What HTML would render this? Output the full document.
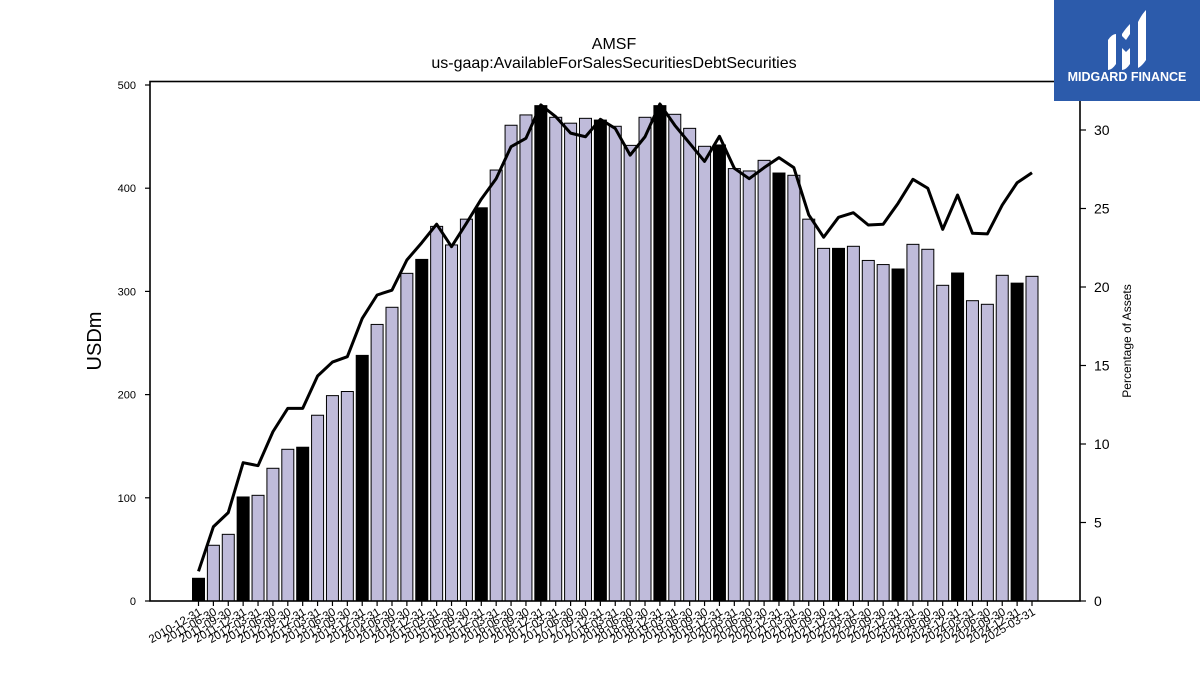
<!DOCTYPE html>
<html><head><meta charset="utf-8"><style>
body{margin:0;background:#fff;}
svg{display:block;font-family:"Liberation Sans","DejaVu Sans",sans-serif;}
</style></head><body>
<svg id="chart" width="1200" height="675" viewBox="0 0 1200 675">
<text x="614" y="49" font-size="16" text-anchor="middle">AMSF</text>
<text x="614" y="68" font-size="16" text-anchor="middle">us-gaap:AvailableForSalesSecuritiesDebtSecurities</text>
<g id="bars"></g>
<g id="line"></g>
<rect x="150" y="81.5" width="930" height="519.5" fill="none" stroke="#000" stroke-width="1.6"/>
<g id="yleft"></g>
<g id="yright"></g>
<g id="xaxis"></g>
<text transform="translate(101,341) rotate(-90)" font-size="20" text-anchor="middle">USDm</text>
<text transform="translate(1131,341) rotate(-90)" font-size="12" text-anchor="middle">Percentage of Assets</text>
<g>
<rect x="1054" y="0" width="146" height="101" fill="#2c5bab"/>
<path d="M1108 40 q4-6 8-6 v30 q-4 6-8 6z M1122 34 q4-6 8-10 v10 l-4 6 l-4-4z M1122 48 l4 4 l4-4 v16 q-4 6-8 6z M1138 22 q4-8 8-12 v50 q-4 6-8 8z" fill="#fff"/>
<text x="1127" y="81" font-size="12.5" font-weight="bold" fill="#fff" text-anchor="middle">MIDGARD FINANCE</text>
</g>
</svg>
<script>
const categories=["2010-12-31","2011-06-30","2011-09-30","2011-12-31","2012-03-31","2012-06-30","2012-09-30","2012-12-31","2013-03-31","2013-06-30","2013-09-30","2013-12-31","2014-03-31","2014-06-30","2014-09-30","2014-12-31","2015-03-31","2015-06-30","2015-09-30","2015-12-31","2016-03-31","2016-06-30","2016-09-30","2016-12-31","2017-03-31","2017-06-30","2017-09-30","2017-12-31","2018-03-31","2018-06-30","2018-09-30","2018-12-31","2019-03-31","2019-06-30","2019-09-30","2019-12-31","2020-03-31","2020-06-30","2020-09-30","2020-12-31","2021-03-31","2021-06-30","2021-09-30","2021-12-31","2022-03-31","2022-06-30","2022-09-30","2022-12-31","2023-03-31","2023-06-30","2023-09-30","2023-12-31","2024-03-31","2024-06-30","2024-09-30","2024-12-31","2025-03-31"];
const barValues=[22,54,64.6,100.8,102.4,128.6,147,149,180,199,203,238,268,284.6,317.5,331,363,345,370,381,417.6,461,471,480,468.7,463,467.7,466,460,441.5,468.7,480,471.6,458,440.6,441.9,419,416.7,427,414.7,412.5,370,341.7,341.7,343.7,330,326,321.7,345.6,340.8,305.9,317.8,291,287.5,315.6,308,314.6];
const pctValues=[1.89,4.73,5.63,8.81,8.62,10.78,12.27,12.27,14.33,15.22,15.56,18.0,19.49,19.8,21.72,22.82,24.0,22.57,24.06,25.6,26.9,28.94,29.47,31.6,30.85,29.8,29.57,30.68,30.1,28.4,29.57,31.66,30.3,29.15,28.0,29.6,27.56,26.9,27.6,28.24,27.6,24.6,23.17,24.44,24.73,23.95,24.0,25.33,26.86,26.29,23.67,25.86,23.42,23.38,25.22,26.64,27.28];
const leftTicks=[0,100,200,300,400,500];
const rightTicks=[0,5,10,15,20,25,30];

const NS="http://www.w3.org/2000/svg";
const x0=198.5, step=(1032-198.5)/56, bw=12;
const xPos=i=>x0+i*step;
const yL=v=>601-v*1.032;
const yR=v=>601-v*15.7;
function mk(t,a,p){const e=document.createElementNS(NS,t);for(const k in a)e.setAttribute(k,a[k]);p.appendChild(e);return e;}
const gB=document.getElementById('bars');
barValues.forEach((v,i)=>{
  const black=categories[i].endsWith('12-31');
  const r=mk('rect',{x:xPos(i)-bw/2,y:yL(v),width:bw,height:601-yL(v),fill:black?'#000':'#bfbbda',stroke:'#000','stroke-width':1},gB);
  
  
});
const gL=document.getElementById('line');
const pl=mk('polyline',{points:pctValues.map((v,i)=>xPos(i)+','+yR(v)).join(' '),fill:'none',stroke:'#000','stroke-width':3,'stroke-linejoin':'round'},gL);


const gY=document.getElementById('yleft');
leftTicks.forEach(v=>{
  const l=mk('line',{x1:145,x2:150,y1:yL(v),y2:yL(v),stroke:'#000','stroke-width':1.2},gY);
  
  
  const t=mk('text',{x:136,y:yL(v)+4,'font-size':11,'text-anchor':'end'},gY);
  t.textContent=v;
  
  
});
const gR=document.getElementById('yright');
rightTicks.forEach(v=>{
  const l=mk('line',{x1:1080,x2:1086,y1:yR(v),y2:yR(v),stroke:'#000','stroke-width':1.2},gR);
  
  
  const t=mk('text',{x:1094,y:yR(v)+5,'font-size':14},gR);
  t.textContent=v;
  
  
});
const gX=document.getElementById('xaxis');
categories.forEach((c,i)=>{
  const x=xPos(i);
  const l=mk('line',{x1:x,x2:x,y1:601,y2:606,stroke:'#000','stroke-width':1.2},gX);
  
  
  const t=mk('text',{transform:`translate(${x+4},${614}) rotate(-30)`,'font-size':11.5,'text-anchor':'end'},gX);
  t.textContent=c;
  
  
});
</script>
</body></html>
